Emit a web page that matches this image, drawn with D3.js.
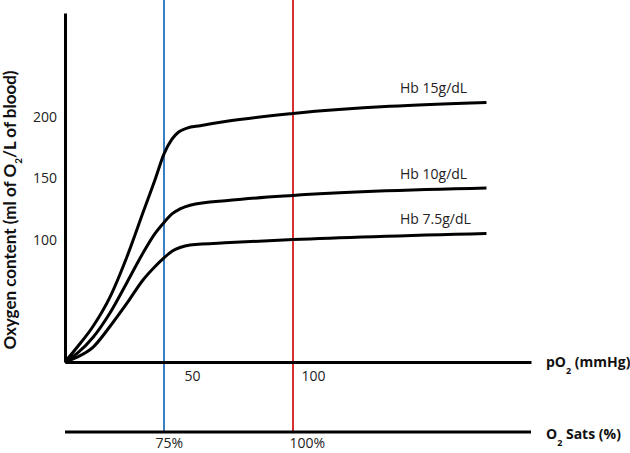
<!DOCTYPE html>
<html>
<head>
<meta charset="utf-8">
<script src="https://cdn.jsdelivr.net/npm/d3@7"></script>
<style>
  body { margin: 0; background: #fff; }
  text { font-family: "Open Sans", sans-serif; fill: #222; }
  .axis-title { font-weight: bold; font-size: 14px; fill: #111; }
</style>
</head>
<body>
<div id="chart"></div>
<script>
// Data (pO2 in mmHg, oxygen content in ml O2 / L)
const hb15Po2 = [0, 6.1, 14.1, 22.7, 31.3, 39.4, 45.5, 50, 53.1, 55.8, 58.9, 64, 75.6, 100, 175.2]
const hb15Content = [0, 12, 29, 53, 86, 122, 149, 170, 182, 188, 191, 193, 197, 203, 212]
const hb10Po2 = [0, 6.1, 14.1, 22.7, 31.3, 39.4, 45.5, 50, 53.1, 56.2, 60.1, 75.6, 100, 175.2]
const hb10Content = [0, 7, 20, 40, 65, 89, 105, 114, 121, 125, 128, 132, 136, 142]
const hb75Po2 = [0, 6.1, 14.1, 22.7, 31.3, 39.4, 45.5, 50, 53.1, 56.2, 60.1, 75.6, 100, 175.2]
const hb75Content = [0, 4, 12, 29, 48, 67, 78, 85, 90.5, 93.5, 95.5, 97.5, 100, 105]
const curveNames = ["Hb 15g/dL", "Hb 10g/dL", "Hb 7.5g/dL"]
const yTicks = [100, 150, 200]
const po2Ticks = [50, 100]
const satTicks = [75, 100]

// Dimensions
const width = 630
const height = 453
const originX = 65
const originY = 362
const topY = 13
const satAxisY = 432

const svg = d3.select("#chart")
  .append("svg")
    .attr("width", width)
    .attr("height", height)

// x is drawn schematically, so the scale is piecewise
const x = d3.scaleLinear()
  .domain([0, 50, 100, 192.5])
  .range([originX, 164, 293, 531])

const y = d3.scaleLinear()
  .domain([0, 285])
  .range([originY, topY])

const sat = d3.scaleLinear()
  .domain(satTicks)
  .range([x(50), x(100)])

// reference lines at 50 mmHg / 75% and 100 mmHg / 100%
svg.append("line")
    .attr("x1", x(50)).attr("x2", x(50))
    .attr("y1", 0).attr("y2", satAxisY)
    .attr("stroke", "#3b7ec2")
    .attr("stroke-width", 2)

svg.append("line")
    .attr("x1", x(100)).attr("x2", x(100))
    .attr("y1", 0).attr("y2", satAxisY)
    .attr("stroke", "#d9302f")
    .attr("stroke-width", 2)

// y axis
const yAxis = svg.append("g")
    .attr("transform", "translate(" + originX + ",0)")
    .call(d3.axisLeft(y).tickValues(yTicks).tickSize(0).tickPadding(8).tickSizeOuter(0))
yAxis.select(".domain")
    .attr("stroke", "#000")
    .attr("stroke-width", 3)
yAxis.selectAll("text")
    .style("font-size", "14px")
    .style("font-family", "Open Sans, sans-serif")
    .attr("fill", "#222")

// pO2 axis
const xAxis = svg.append("g")
    .attr("transform", "translate(0," + originY + ")")
    .call(d3.axisBottom(x).tickValues(po2Ticks).tickSize(0).tickPadding(9).tickSizeOuter(0))
xAxis.select(".domain")
    .attr("stroke", "#000")
    .attr("stroke-width", 3)
xAxis.selectAll("text")
    .style("font-size", "14px")
    .style("font-family", "Open Sans, sans-serif")
    .attr("fill", "#222")
    .attr("text-anchor", "start")
    .attr("dx", function(d) { return d === 50 ? 20 : 8 })
    .text(function(d) { return d })

// O2 saturation axis
const satAxis = svg.append("g")
    .attr("transform", "translate(0," + satAxisY + ")")
    .call(d3.axisBottom(sat).tickValues(satTicks).tickSize(0).tickPadding(6).tickSizeOuter(0))
satAxis.select(".domain").remove()
satAxis.append("line")
    .attr("x1", originX).attr("x2", x(192.5))
    .attr("stroke", "#000")
    .attr("stroke-width", 3)
satAxis.selectAll(".tick text")
    .style("font-size", "14px")
    .style("font-family", "Open Sans, sans-serif")
    .attr("fill", "#222")
    .attr("text-anchor", "start")
    .attr("dx", function(d) { return d === 75 ? -9 : -4 })
    .text(function(d) { return d + "%" })

// axis titles
const pTitle = svg.append("text")
    .attr("class", "axis-title")
    .attr("x", 546)
    .attr("y", originY + 5)
pTitle.append("tspan").text("pO")
pTitle.append("tspan").attr("baseline-shift", "sub").style("font-size", "9px").text("2")
pTitle.append("tspan").text(" (mmHg)")

const sTitle = svg.append("text")
    .attr("class", "axis-title")
    .attr("x", 546)
    .attr("y", satAxisY + 7)
sTitle.append("tspan").text("O")
sTitle.append("tspan").attr("baseline-shift", "sub").style("font-size", "9px").text("2")
sTitle.append("tspan").text(" Sats (%)")

const yTitle = svg.append("text")
    .attr("class", "axis-title")
    .attr("text-anchor", "middle")
    .style("font-family", "Lato, sans-serif")
    .style("font-size", "17px")
    .attr("transform", "translate(16,210) rotate(-90)")
yTitle.append("tspan").text("Oxygen content (ml of O")
yTitle.append("tspan").attr("baseline-shift", "sub").style("font-size", "10px").text("2")
yTitle.append("tspan").text("/L of blood)")

// curves
const series = [
  {name: curveNames[0], po2: hb15Po2, content: hb15Content},
  {name: curveNames[1], po2: hb10Po2, content: hb10Content},
  {name: curveNames[2], po2: hb75Po2, content: hb75Content}
]

const line = d3.line()
  .x(function(d) { return x(d[0]) })
  .y(function(d) { return y(d[1]) })
  .curve(d3.curveMonotoneX)

svg.selectAll(".curve")
    .data(series)
    .enter().append("path")
    .attr("class", "curve")
    .attr("fill", "none")
    .attr("stroke", "#000")
    .attr("stroke-width", 3)
    .attr("d", function(d) { return line(d3.zip(d.po2, d.content)) })

svg.selectAll(".curve-label")
    .data(series)
    .enter().append("text")
    .attr("class", "curve-label")
    .attr("x", 400)
    .attr("y", function(d) { return y(d.content[d.content.length - 1]) - 9 })
    .style("font-size", "14px")
    .text(function(d) { return d.name })
</script>
</body>
</html>
